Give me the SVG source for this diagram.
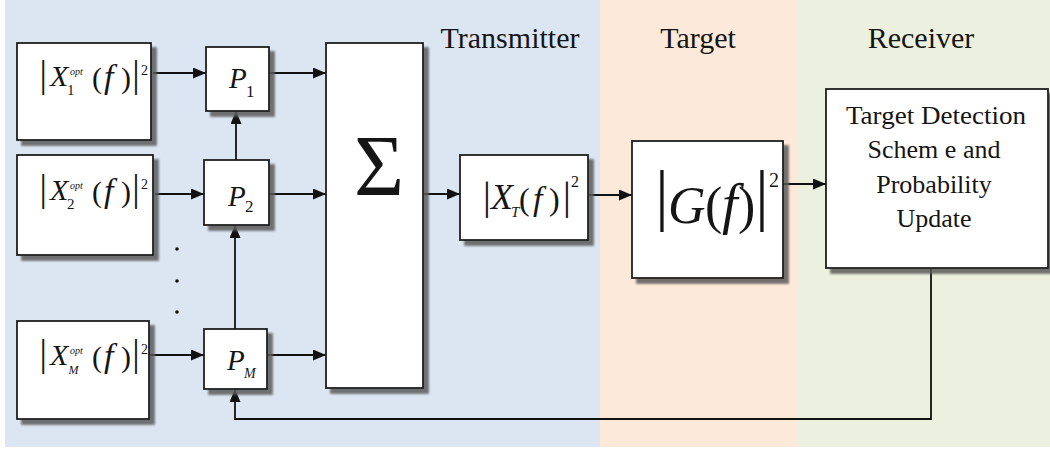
<svg xmlns="http://www.w3.org/2000/svg" width="1050" height="449" viewBox="0 0 1050 449" font-family="Liberation Serif">
<defs>
<filter id="sh" x="-20%" y="-20%" width="140%" height="140%">
<feGaussianBlur in="SourceAlpha" stdDeviation="1.3"/>
<feOffset dx="5" dy="5" result="o"/>
<feFlood flood-color="#5a5a5a" flood-opacity="0.85"/>
<feComposite in2="o" operator="in"/>
<feMerge><feMergeNode/><feMergeNode in="SourceGraphic"/></feMerge>
</filter>
<marker id="ah" markerUnits="userSpaceOnUse" markerWidth="13" markerHeight="11" refX="13" refY="5.5" orient="auto">
<path d="M0,0 L13,5.5 L0,11 z" fill="#111"/>
</marker>
</defs>

<g id="backgrounds">
<rect x="5" y="0" width="595" height="447" fill="#DCE6F2"/>
<rect x="600" y="0" width="197" height="447" fill="#FDE9D9"/>
<rect x="797" y="0" width="253" height="447" fill="#EBF1DE"/>
</g>
<g id="titles" font-family="Liberation Serif" font-size="30" text-anchor="middle" fill="#151515">
<text x="510" y="48">Transmitter</text>
<text x="698" y="48">Target</text>
<text x="921" y="48">Receiver</text>
</g>

<g id="connectors" fill="none" stroke="#111" stroke-width="1.8" marker-end="url(#ah)">
<line x1="153" y1="73" x2="206" y2="73"/>
<line x1="155" y1="194" x2="204" y2="194"/>
<line x1="149" y1="355" x2="204" y2="355"/>
<line x1="269" y1="73" x2="326" y2="73"/>
<line x1="269" y1="194" x2="326" y2="194"/>
<line x1="267" y1="355" x2="326" y2="355"/>
<line x1="236" y1="160" x2="236" y2="111"/>
<line x1="235" y1="329" x2="235" y2="225"/>
<line x1="423" y1="194" x2="460" y2="194"/>
<line x1="588" y1="195" x2="632" y2="195"/>
<line x1="783" y1="184" x2="826" y2="184"/>
<polyline points="931,268 931,419 235,419 235,389"/>
</g>
<g id="dots" fill="#111">
<circle cx="177" cy="249" r="1.8"/>
<circle cx="177" cy="281" r="1.8"/>
<circle cx="177" cy="312" r="1.8"/>
</g>

<g id="boxes" fill="#fff" stroke="#1e1e1e" stroke-width="1.8" filter="url(#sh)">
<rect id="x1-box" x="17" y="43" width="134" height="97"/>
<rect id="x2-box" x="17" y="155" width="136" height="100"/>
<rect id="xm-box" x="17" y="321" width="132" height="98"/>
<rect id="p1-box" x="206" y="47" width="63" height="64"/>
<rect id="p2-box" x="204" y="160" width="65" height="65"/>
<rect id="pm-box" x="204" y="329" width="63" height="60"/>
<rect id="sum-box" x="326" y="43" width="97" height="345"/>
<rect id="xt-box" x="460" y="155" width="128" height="85"/>
<rect id="g-box" x="632" y="141" width="151" height="137"/>
<rect id="rx-box" x="826" y="89" width="222" height="179"/>
</g>

<g id="x1" font-family="Liberation Serif" fill="#151515">
<text>
<tspan x="39.5" y="87" font-size="37">|</tspan>
<tspan font-style="italic" x="50" y="86" font-size="30">X</tspan>
<tspan x="67" y="95" font-size="15">1</tspan>
<tspan font-style="italic" x="70" y="75" font-size="10">opt</tspan>
<tspan x="92" y="88" font-size="30">(</tspan>
<tspan font-style="italic" x="104" y="88" font-size="34">f</tspan>
<tspan x="121" y="88" font-size="30">)</tspan>
<tspan x="132.3" y="87" font-size="37">|</tspan>
<tspan x="141" y="75" font-size="14">2</tspan>
</text>
</g>

<g id="x2" font-family="Liberation Serif" fill="#151515">
<text transform="translate(0,114)">
<tspan x="39.5" y="87" font-size="37">|</tspan>
<tspan font-style="italic" x="50" y="86" font-size="30">X</tspan>
<tspan x="67" y="95" font-size="15">2</tspan>
<tspan font-style="italic" x="70" y="75" font-size="10">opt</tspan>
<tspan x="92" y="88" font-size="30">(</tspan>
<tspan font-style="italic" x="104" y="88" font-size="34">f</tspan>
<tspan x="121" y="88" font-size="30">)</tspan>
<tspan x="132.3" y="87" font-size="37">|</tspan>
<tspan x="141" y="75" font-size="14">2</tspan>
</text>
</g>

<g id="xm" font-family="Liberation Serif" fill="#151515">
<text transform="translate(0,279)">
<tspan x="39.5" y="87" font-size="37">|</tspan>
<tspan font-style="italic" x="50" y="86" font-size="30">X</tspan>
<tspan font-style="italic" x="68.5" y="95" font-size="12">M</tspan>
<tspan font-style="italic" x="70" y="75" font-size="10">opt</tspan>
<tspan x="92" y="88" font-size="30">(</tspan>
<tspan font-style="italic" x="104" y="88" font-size="34">f</tspan>
<tspan x="121" y="88" font-size="30">)</tspan>
<tspan x="132.3" y="87" font-size="37">|</tspan>
<tspan x="141" y="75" font-size="14">2</tspan>
</text>
</g>

<g id="p1" font-family="Liberation Serif" fill="#151515">
<text><tspan font-style="italic" x="229" y="88" font-size="29">P</tspan><tspan x="246" y="97" font-size="17">1</tspan></text>
</g>
<g id="p2" font-family="Liberation Serif" fill="#151515">
<text><tspan font-style="italic" x="228" y="206" font-size="29">P</tspan><tspan x="245" y="212" font-size="17">2</tspan></text>
</g>
<g id="pm" font-family="Liberation Serif" fill="#151515">
<text><tspan font-style="italic" x="227" y="370" font-size="29">P</tspan><tspan font-style="italic" x="244" y="378" font-size="14">M</tspan></text>
</g>

<g id="sum" font-family="Liberation Serif" fill="#151515">
<text x="379" y="195" font-size="86" text-anchor="middle">Σ</text>
</g>

<g id="xt" font-family="Liberation Serif" fill="#151515">
<text>
<tspan x="483" y="209" font-size="39">|</tspan>
<tspan font-style="italic" x="491" y="209" font-size="36">X</tspan>
<tspan font-style="italic" x="511" y="217" font-size="15">T</tspan>
<tspan x="519" y="210" font-size="32">(</tspan>
<tspan font-style="italic" x="533" y="210" font-size="34">f</tspan>
<tspan x="549" y="210" font-size="32">)</tspan>
<tspan x="563" y="209" font-size="39">|</tspan>
<tspan x="571" y="187" font-size="16">2</tspan>
</text>
</g>

<g id="g" font-family="Liberation Serif" fill="#151515">
<text>
<tspan x="655.3" y="218" font-size="67">|</tspan>
<tspan font-style="italic" x="668" y="223" font-size="52">G</tspan>
<tspan x="705" y="223" font-size="52">(</tspan>
<tspan font-style="italic" x="722" y="223" font-size="56">f</tspan>
<tspan x="738" y="223" font-size="52">)</tspan>
<tspan x="755.3" y="218" font-size="67">|</tspan>
<tspan x="769" y="187" font-size="20">2</tspan>
</text>
</g>

<g id="receiver" font-family="Liberation Serif" font-size="26" text-anchor="middle" fill="#151515">
<text x="936" y="124" textLength="180" lengthAdjust="spacingAndGlyphs">Target Detection</text>
<text x="934" y="158">Schem e and</text>
<text x="934" y="193">Probability</text>
<text x="934" y="227">Update</text>
</g>
</svg>
